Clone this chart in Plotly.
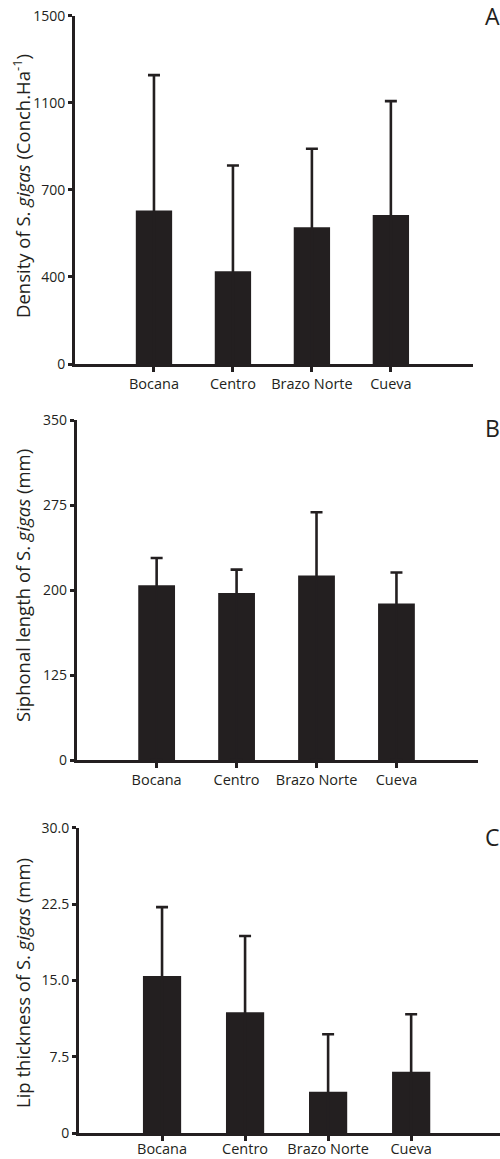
import plotly.graph_objects as go

sites = ["Bocana", "Centro", "Brazo Norte", "Cueva"]

# Panel A: density (linear axis 0-1500)
density_mean = [661, 399, 589, 642]
density_upper = [1244, 855, 927, 1132]
density_tickvals = [0, 375, 750, 1125, 1500]
density_ticktext = ["0", "400", "700", "1100", "1500"]

# Panel B: siphonal length (linear axis 0-350)
siphon_mean = [180, 172, 190, 161]
siphon_upper = [208, 196, 255, 193]
siphon_tickvals = [0, 87.5, 175, 262.5, 350]
siphon_ticktext = ["0", "125", "200", "275", "350"]

# Panel C: lip thickness (linear axis 0-30)
lip_mean = [15.44, 11.88, 4.08, 6.05]
lip_upper = [22.2, 19.37, 9.72, 11.68]
lip_tickvals = [0, 7.5, 15, 22.5, 30]
lip_ticktext = ["0", "7.5", "15.0", "22.5", "30.0"]

INK = "#231f20"
FONT = "Open Sans, Noto Sans, sans-serif"

W, H = 500, 1159

def px(p):
    return p / W

def py(p):
    return 1 - p / H

panels = [
    dict(mean=density_mean, upper=density_upper, tv=density_tickvals, tt=density_ticktext,
         ymax=1500, xdom=[px(75), px(473)], ydom=[py(364), py(15.7)], xr=[-1, 4.04],
         title="Density of S. <i>gigas</i> (Conch.Ha<sup>-1</sup>)", tcy=186, letter="A",
         ly=16, lstand=0),
    dict(mean=siphon_mean, upper=siphon_upper, tv=siphon_tickvals, tt=siphon_ticktext,
         ymax=350, xdom=[px(76.7), px(478)], ydom=[py(760), py(420)], xr=[-1, 4.02],
         title="Siphonal length of S. <i>gigas</i> (mm)", tcy=586, letter="B",
         ly=428, lstand=0),
    dict(mean=lip_mean, upper=lip_upper, tv=lip_tickvals, tt=lip_ticktext,
         ymax=30, xdom=[px(79), 1.0], ydom=[py(1133.3), py(827.7)], xr=[-1, 4.07],
         title="Lip thickness of S. <i>gigas</i> (mm)", tcy=983, letter="C",
         ly=837, lstand=-5),
]

fig = go.Figure()
annotations = []
axes = {}

for i, p in enumerate(panels):
    n = "" if i == 0 else str(i + 1)
    xa, ya = "x" + n, "y" + n
    err = [u - m for u, m in zip(p["upper"], p["mean"])]
    fig.add_trace(go.Bar(
        x=list(range(len(sites))), y=p["mean"], xaxis=xa, yaxis=ya,
        marker=dict(color=INK, line=dict(width=0)), width=0.46,
        error_y=dict(type="data", array=err, arrayminus=p["mean"], symmetric=False,
                     color=INK, thickness=2.6, width=6),
    ))
    axes["xaxis" + n] = dict(
        domain=p["xdom"], anchor=ya, range=p["xr"], automargin=False,
        tickmode="array", tickvals=list(range(len(sites))), ticktext=sites,
        ticks="outside", ticklen=5, tickwidth=3, tickcolor=INK,
        ticklabelstandoff=p["lstand"], ticklabeloverflow="allow",
        showline=True, linecolor=INK, linewidth=3, showgrid=False, zeroline=False,
        tickfont=dict(family=FONT, size=14.5, color=INK),
    )
    axes["yaxis" + n] = dict(
        domain=p["ydom"], anchor=xa, range=[0, p["ymax"]], automargin=False,
        tickmode="array", tickvals=p["tv"], ticktext=p["tt"],
        ticks="outside", ticklen=4, tickwidth=3, tickcolor=INK,
        ticklabeloverflow="allow",
        showline=True, linecolor=INK, linewidth=3, showgrid=False, zeroline=False,
        tickfont=dict(family=FONT, size=14, color=INK),
    )
    annotations.append(dict(
        text=p["title"], textangle=-90, xref="paper", yref="paper",
        x=px(22), y=py(p["tcy"]), xanchor="center", yanchor="middle", showarrow=False,
        font=dict(family=FONT, size=18.5, color=INK),
    ))
    annotations.append(dict(
        text=p["letter"], xref="paper", yref="paper",
        x=px(492), y=py(p["ly"]), xanchor="center", yanchor="middle", showarrow=False,
        font=dict(family=FONT, size=23, color=INK),
    ))

fig.update_layout(
    width=W, height=H,
    margin=dict(l=0, r=0, t=0, b=0, autoexpand=False),
    paper_bgcolor="white", plot_bgcolor="white",
    showlegend=False,
    hovermode=False,
    annotations=annotations,
    **axes,
)
# remove the browser's default 8px page margin so the 500x1159 figure fills the window
fig.write_html("out.html", config={"displayModeBar": False},
               post_script="document.body.style.margin='0px';")
